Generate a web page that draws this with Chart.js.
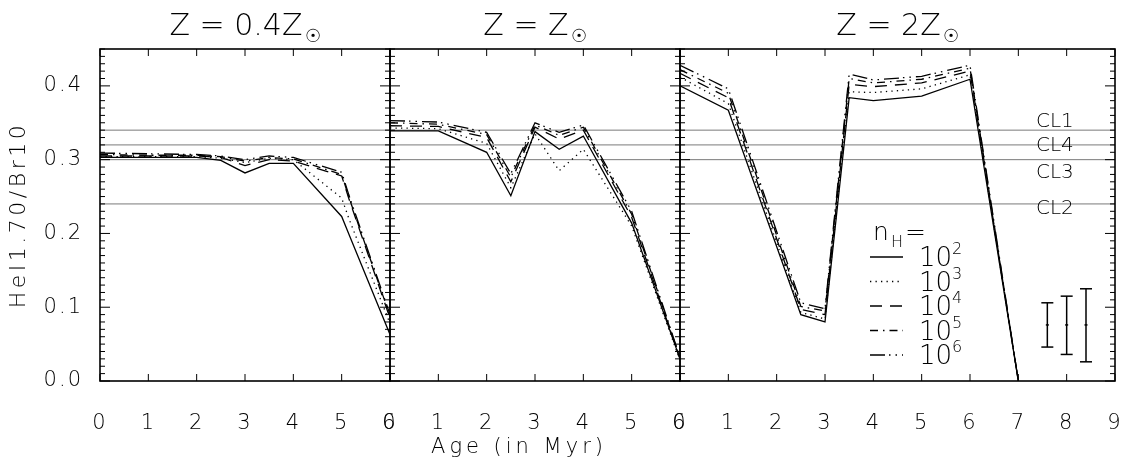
<!DOCTYPE html>
<html>
<head>
<meta charset="utf-8">
<script src="https://cdn.jsdelivr.net/npm/chart.js@4.4.1/dist/chart.umd.min.js"></script>
<style>
  html, body { margin: 0; padding: 0; background: #fff; overflow: hidden; }
  #wrap { position: relative; width: 1123px; height: 463px; }
</style>
</head>
<body>
<div id="wrap"><canvas id="chart" width="1123" height="463"></canvas></div>
<script>
// --- data ---
const densityExp = ['2', '3', '4', '5', '6'];

// Z = 0.4 Zsun
const agesLowZ = [0, 1, 2, 2.5, 3, 3.5, 4, 5, 5.15, 6];
const lowZ_1e2 = [0.303, 0.303, 0.303, 0.299, 0.282, 0.295, 0.295, 0.223, 0.199, 0.063];
const lowZ_1e3 = [0.304, 0.304, 0.304, 0.302, 0.296, 0.302, 0.300, 0.248, 0.220, 0.078];
const lowZ_1e4 = [0.305, 0.305, 0.305, 0.303, 0.292, 0.300, 0.298, 0.278, 0.247, 0.085];
const lowZ_1e5 = [0.307, 0.306, 0.306, 0.304, 0.298, 0.303, 0.301, 0.280, 0.249, 0.088];
const lowZ_1e6 = [0.309, 0.308, 0.307, 0.305, 0.300, 0.305, 0.303, 0.283, 0.252, 0.090];

// Z = Zsun
const agesSolZ = [0, 1, 2, 2.5, 3, 3.5, 4, 5, 6];
const solZ_1e2 = [0.339, 0.339, 0.310, 0.251, 0.338, 0.314, 0.332, 0.214, 0.030];
const solZ_1e3 = [0.343, 0.342, 0.322, 0.262, 0.335, 0.285, 0.314, 0.210, 0.028];
const solZ_1e4 = [0.346, 0.345, 0.330, 0.270, 0.344, 0.328, 0.340, 0.222, 0.030];
const solZ_1e5 = [0.350, 0.348, 0.334, 0.276, 0.347, 0.333, 0.344, 0.226, 0.031];
const solZ_1e6 = [0.353, 0.351, 0.337, 0.281, 0.350, 0.337, 0.347, 0.230, 0.032];

// Z = 2 Zsun
const agesHiZ = [0, 1, 2.5, 3, 3.5, 4, 5, 6, 7];
const hiZ_1e2 = [0.400, 0.367, 0.090, 0.080, 0.384, 0.380, 0.386, 0.409, 0];
const hiZ_1e3 = [0.412, 0.376, 0.093, 0.084, 0.392, 0.391, 0.396, 0.415, 0];
const hiZ_1e4 = [0.417, 0.384, 0.097, 0.090, 0.402, 0.399, 0.404, 0.420, 0];
const hiZ_1e5 = [0.422, 0.390, 0.101, 0.095, 0.410, 0.404, 0.409, 0.424, 0];
const hiZ_1e6 = [0.428, 0.396, 0.106, 0.098, 0.416, 0.408, 0.413, 0.428, 0];

// cluster levels
const clusterNames = ['CL1', 'CL4', 'CL3', 'CL2'];
const clusterRatio = [0.340, 0.320, 0.300, 0.240];

// error bars
const errAge = [7.6, 8.0, 8.4];
const errMid = [0.076, 0.076, 0.076];
const errLow = [0.046, 0.036, 0.026];
const errHigh = [0.106, 0.115, 0.125];

const panelTitles = ['Z = 0.4Z', 'Z = Z', 'Z = 2Z'];
const panelMax = [6, 6, 9];
const yTicks = [0, 0.1, 0.2, 0.3, 0.4];

// --- styles ---
const FAM = '"DejaVu Sans", sans-serif';
const dashes = [[], [1.3, 4.2], [12, 8], [8, 5, 1.5, 5], [15, 4, 1.5, 5, 1.5, 5]];

const panels = [
  { axis: 'x1', ages: agesLowZ, series: [lowZ_1e2, lowZ_1e3, lowZ_1e4, lowZ_1e5, lowZ_1e6] },
  { axis: 'x2', ages: agesSolZ, series: [solZ_1e2, solZ_1e3, solZ_1e4, solZ_1e5, solZ_1e6] },
  { axis: 'x3', ages: agesHiZ, series: [hiZ_1e2, hiZ_1e3, hiZ_1e4, hiZ_1e5, hiZ_1e6] }
];

const datasets = [];
panels.forEach((p, pi) => {
  clusterRatio.forEach((r) => {
    datasets.push({
      xAxisID: p.axis, yAxisID: 'y',
      data: [{ x: 0, y: r }, { x: panelMax[pi], y: r }],
      borderColor: '#7a7a7a', borderWidth: 1, pointRadius: 0, order: 5
    });
  });
  p.series.forEach((vals, si) => {
    datasets.push({
      xAxisID: p.axis, yAxisID: 'y',
      data: vals.map((v, i) => ({ x: p.ages[i], y: v })),
      borderColor: '#000', borderWidth: 1.3, borderDash: dashes[si],
      pointRadius: 0, order: 1
    });
  });
});

errAge.forEach((a, i) => {
  datasets.push({
    xAxisID: 'x3', yAxisID: 'y',
    data: [{ x: a, y: errLow[i] }, { x: a, y: errHigh[i] }],
    borderColor: '#000', borderWidth: 1.5,
    pointStyle: 'line', pointRadius: 6, pointBorderWidth: 1.5,
    pointBorderColor: '#000', order: 0
  });
  datasets.push({
    xAxisID: 'x3', yAxisID: 'y',
    data: [{ x: a, y: errMid[i] }],
    pointStyle: 'line', pointRadius: 1.5, pointBorderWidth: 1.5,
    pointBorderColor: '#000', showLine: false, order: 0
  });
});

function xScale(i) {
  return {
    type: 'linear', position: 'bottom', stack: 'age', stackWeight: panelMax[i],
    min: 0, max: panelMax[i],
    grid: { display: false }, border: { display: false },
    ticks: {
      stepSize: 1, autoSkip: false, maxRotation: 0, padding: 22,
      color: '#000', font: { family: FAM, size: 21, weight: 200 }
    },
    afterFit: (s) => {
      s.height = 82;
      // keep the tick-label padding from shrinking the plot area
      s.paddingLeft = 0;
      s.paddingRight = 0;
    }
  };
}

// wider spacing for tick labels, like the original plot font
const spacing = {
  id: 'spacing',
  beforeDraw(chart) { chart.ctx.letterSpacing = '2px'; },
  afterDraw(chart) { chart.ctx.letterSpacing = '0px'; }
};

// frame, inward ticks, titles, labels and legend
const decor = {
  id: 'decor',
  afterDatasetsDraw(chart) {
    const ctx = chart.ctx;
    const ys = chart.scales.y;
    ctx.save();
    ctx.letterSpacing = '0px';
    ctx.strokeStyle = '#000';
    ['x1', 'x2', 'x3'].forEach((id, pi) => {
      const xs = chart.scales[id];
      const L = xs.left, R = xs.right, T = ys.top, B = ys.bottom;
      ctx.lineWidth = 1;
      ctx.beginPath();
      for (let v = 0; v <= panelMax[pi]; v++) {
        const px = xs.getPixelForValue(v);
        ctx.moveTo(px, B); ctx.lineTo(px, B - 7);
        ctx.moveTo(px, T); ctx.lineTo(px, T + 7);
      }
      for (let k = 0; k <= 45; k++) {
        const py = ys.getPixelForValue(k / 100);
        const len = k % 10 === 0 ? 10 : 5;
        ctx.moveTo(L, py); ctx.lineTo(L + len, py);
        ctx.moveTo(R, py); ctx.lineTo(R - len, py);
      }
      ctx.stroke();
      ctx.lineWidth = 1.6;
      ctx.strokeRect(L, T, R - L, B - T);

      // panel title with sun symbol as subscript
      const cx = (L + R) / 2;
      ctx.fillStyle = '#000';
      ctx.textBaseline = 'alphabetic';
      ctx.textAlign = 'left';
      ctx.font = `200 30px ${FAM}`;
      const w1 = ctx.measureText(panelTitles[pi]).width;
      ctx.font = `200 18px ${FAM}`;
      const w2 = ctx.measureText('\u2609').width;
      const x0 = cx - (w1 + w2 + 2) / 2;
      ctx.font = `200 30px ${FAM}`;
      ctx.fillText(panelTitles[pi], x0, 35);
      ctx.font = `200 18px ${FAM}`;
      ctx.fillText('\u2609', x0 + w1 + 2, 42);
    });

    // cluster labels
    const clOffset = [-3, 6, 18, 10];
    ctx.font = `200 20px ${FAM}`;
    clusterNames.forEach((n, i) => {
      ctx.fillText(n, 1036, ys.getPixelForValue(clusterRatio[i]) + clOffset[i]);
    });

    // legend
    ctx.font = `200 25px ${FAM}`;
    ctx.fillText('n', 873, 240);
    ctx.fillText('=', 905, 240);
    ctx.font = `200 16px ${FAM}`;
    ctx.fillText('H', 891, 247);
    densityExp.forEach((e, i) => {
      const ly = 257 + i * 24.5;
      ctx.lineWidth = 1.3;
      ctx.setLineDash(dashes[i]);
      ctx.beginPath();
      ctx.moveTo(870, ly); ctx.lineTo(903, ly);
      ctx.stroke();
      ctx.setLineDash([]);
      ctx.font = `200 26px ${FAM}`;
      ctx.fillText('10', 919, ly + 9);
      ctx.font = `200 16px ${FAM}`;
      ctx.fillText(e, 952, ly - 3);
    });

    // axis titles
    ctx.textAlign = 'center';
    ctx.font = `200 21px ${FAM}`;
    ctx.letterSpacing = '4px';
    ctx.fillText('Age (in Myr)', 519, 453);
    ctx.font = `200 22px ${FAM}`;
    ctx.letterSpacing = '3.5px';
    ctx.translate(25, 215);
    ctx.rotate(-Math.PI / 2);
    ctx.fillText('HeI1.70/Br10', 0, 0);
    ctx.restore();
  }
};

new Chart(document.getElementById('chart'), {
  type: 'line',
  data: { datasets },
  options: {
    responsive: false,
    animation: false,
    devicePixelRatio: 1,
    layout: { padding: { top: 49, right: 8, bottom: 0, left: 0 } },
    plugins: { legend: { display: false }, tooltip: { enabled: false } },
    scales: {
      y: {
        type: 'linear', position: 'left', min: 0, max: 0.45,
        grid: { display: false }, border: { display: false },
        afterBuildTicks: (s) => { s.ticks = yTicks.map((v) => ({ value: v })); },
        ticks: {
          padding: 9, color: '#000',
          font: { family: FAM, size: 21, weight: 200 },
          callback: (v) => Number(v).toFixed(1)
        },
        afterFit: (s) => { s.width = 100; }
      },
      x1: xScale(0),
      x2: xScale(1),
      x3: xScale(2)
    }
  },
  plugins: [spacing, decor]
});
</script>
</body>
</html>
